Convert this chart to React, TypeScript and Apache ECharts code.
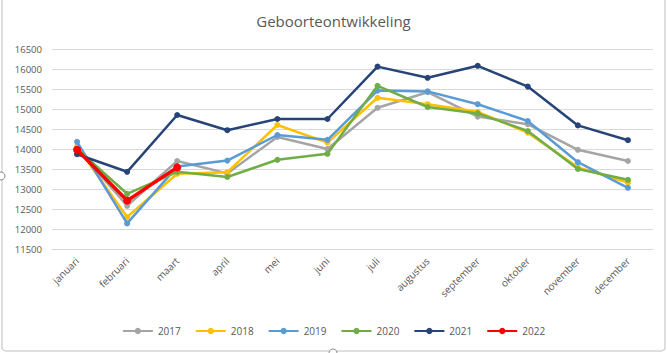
import React, { useEffect, useRef } from "react";
import * as echarts from "echarts";

const months = ["januari", "februari", "maart", "april", "mei", "juni", "juli", "augustus", "september", "oktober", "november", "december"];
const years = ["2017", "2018", "2019", "2020", "2021", "2022"];
const colors = ["#A5A5A5", "#FFC000", "#5B9BD5", "#70AD47", "#264478", "#FF0000"];

const v2017 = [14010, 12580, 13700, 13390, 14300, 14000, 15030, 15420, 14810, 14620, 13980, 13700];
const v2018 = [14060, 12300, 13380, 13420, 14600, 14160, 15280, 15120, 14930, 14410, 13540, 13160];
const v2019 = [14180, 12140, 13560, 13710, 14350, 14230, 15460, 15440, 15120, 14700, 13670, 13030];
const v2020 = [14000, 12880, 13430, 13300, 13730, 13880, 15580, 15050, 14890, 14450, 13500, 13230];
const v2021 = [13870, 13430, 14850, 14470, 14750, 14750, 16060, 15780, 16080, 15560, 14590, 14220];
const v2022 = [13980, 12710, 13540];

const seriesData = [v2017, v2018, v2019, v2020, v2021, v2022];

const yMin = 11500;
const yMax = 16500;
const yStep = 500;

const FONT = "'Open Sans', 'Noto Sans', sans-serif";

export default function App() {
  const ref = useRef<HTMLDivElement>(null);
  useEffect(() => {
    if (!ref.current) return;
    const chart = echarts.init(ref.current, undefined, { renderer: "svg" });
    chart.setOption({
      animation: false,
      backgroundColor: "#ffffff",
      title: {
        text: "Geboorteontwikkeling",
        left: "center",
        top: 8,
        textStyle: { color: "#595959", fontSize: 15, fontWeight: "normal", fontFamily: FONT },
      },
      legend: {
        bottom: 12,
        left: "center",
        itemWidth: 30,
        itemHeight: 8,
        itemGap: 14,
        textStyle: { color: "#595959", fontSize: 10, fontFamily: FONT },
        data: years,
      },
      grid: { left: 52, right: 14, top: 49, bottom: 104 },
      xAxis: {
        type: "category",
        data: months,
        boundaryGap: true,
        axisLine: { show: true, lineStyle: { color: "#D9D9D9" } },
        axisTick: { show: false },
        axisLabel: { rotate: 45, color: "#595959", fontSize: 10, fontFamily: FONT, margin: 10, interval: 0 },
      },
      yAxis: {
        type: "value",
        min: yMin,
        max: yMax,
        interval: yStep,
        axisLine: { show: false },
        axisTick: { show: false },
        axisLabel: { color: "#595959", fontSize: 9.5, fontFamily: FONT, margin: 10, formatter: (v: number) => String(v) },
        splitLine: { lineStyle: { color: "#D9D9D9", width: 1 } },
      },
      series: years.map((y, i) => ({
        name: y,
        type: "line",
        data: seriesData[i],
        color: colors[i],
        symbol: "circle",
        symbolSize: i === 5 ? 8 : 6,
        lineStyle: { width: i === 5 ? 3.5 : 2.5, color: colors[i] },
        itemStyle: { color: colors[i] },
        z: 2 + i,
      })),
      graphic: [
        {
          type: "polyline",
          shape: { points: [[2, 0], [2, 349], [5, 351], [662, 351], [665, 349], [665, 0]] },
          style: { stroke: "#BFBFBF", fill: "none", lineWidth: 1 },
          silent: true,
        },
        {
          type: "circle",
          shape: { cx: 1, cy: 176, r: 4 },
          style: { stroke: "#8C8C8C", fill: "#ffffff", lineWidth: 1 },
          silent: true,
        },
        {
          type: "circle",
          shape: { cx: 333, cy: 353, r: 4 },
          style: { stroke: "#8C8C8C", fill: "#ffffff", lineWidth: 1 },
          silent: true,
        },
      ],
    });
    return () => chart.dispose();
  }, []);
  return (
    <div style={{ position: "fixed", left: 0, top: 0, width: 667, height: 353 }}>
      <div ref={ref} style={{ width: 667, height: 353 }} />
    </div>
  );
}
